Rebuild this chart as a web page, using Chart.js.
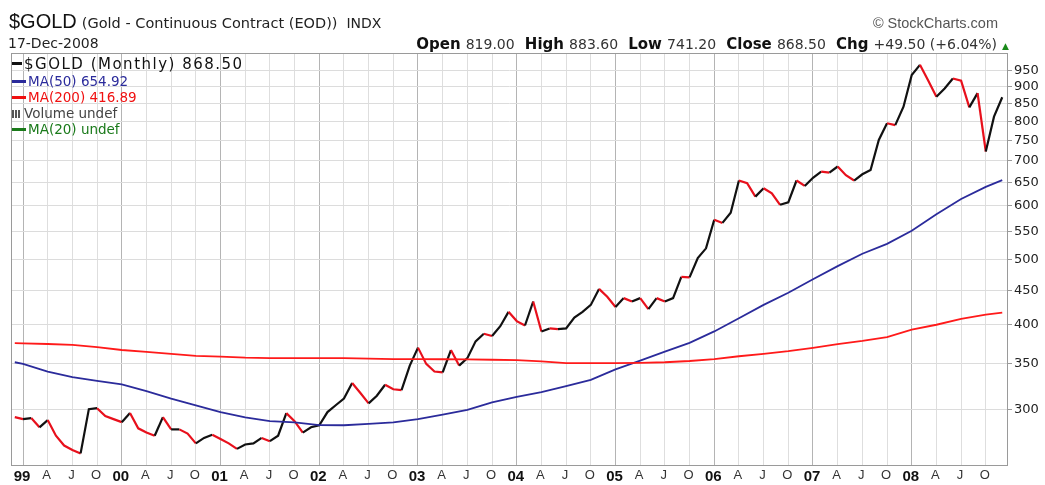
<!DOCTYPE html>
<html>
<head>
<meta charset="utf-8">
<script src="https://cdn.jsdelivr.net/npm/chart.js@4.4.1/dist/chart.umd.min.js"></script>
<style>
  html,body{margin:0;padding:0;background:#fff;}
  #wrap{position:relative;width:1045px;height:485px;overflow:hidden;font-family:"Liberation Sans",Arial,sans-serif;}
  canvas{position:absolute;left:0;top:0;}
  .abs{position:absolute;white-space:nowrap;}
  .leg{position:absolute;left:12px;font-family:"DejaVu Sans",Verdana,sans-serif;white-space:nowrap;line-height:16px;}
  .dash{display:inline-block;width:14px;height:3px;vertical-align:middle;margin-right:2px;position:relative;top:-1px;}
  .ohlc{font-family:"DejaVu Sans",Verdana,sans-serif;}
  .ohlc b{font-weight:bold;font-size:15px;color:#111;}
  .ohlc span{font-size:14px;color:#333;}
</style>
</head>
<body>
<div id="wrap">
  <canvas id="c" width="1045" height="485"></canvas>

  <div class="abs" style="left:9px;top:10px;display:flex;align-items:baseline;color:#111;">
    <span style="font-size:20px;font-family:'Liberation Sans',Arial,sans-serif;">$GOLD</span>
    <span style="font-size:14.5px;margin-left:5px;color:#222;font-family:'DejaVu Sans',Verdana,sans-serif;">(Gold - Continuous Contract (EOD))</span>
    <span style="font-size:14px;margin-left:9px;color:#222;font-family:'DejaVu Sans',Verdana,sans-serif;">INDX</span>
  </div>
  <div class="abs" style="left:8px;top:35px;font-size:14px;color:#222;font-family:'DejaVu Sans',Verdana,sans-serif;">17-Dec-2008</div>
  <div class="abs" style="right:47px;top:15px;font-size:14.5px;color:#555;">&#169; StockCharts.com</div>
  <div class="abs ohlc" style="right:36px;top:34px;">
    <b>Open</b> <span>819.00</span>&nbsp; <b>High</b> <span>883.60</span>&nbsp; <b>Low</b> <span>741.20</span>&nbsp; <b>Close</b> <span>868.50</span>&nbsp; <b>Chg</b> <span>+49.50 (+6.04%)</span> <span style="color:#1a8a1a;font-size:9px;">&#9650;</span>
  </div>

  <div class="leg" style="top:56px;font-size:15px;letter-spacing:1.5px;color:#111;"><span class="dash" style="background:#111;width:10px;"></span>$GOLD (Monthly) 868.50</div>
  <div class="leg" style="top:73px;font-size:13.5px;color:#2b2b9b;"><span class="dash" style="background:#2b2b9b;"></span>MA(50) 654.92</div>
  <div class="leg" style="top:89px;font-size:13.5px;color:#f01010;"><span class="dash" style="background:#f01010;"></span>MA(200) 416.89</div>
  <div class="leg" style="top:105px;font-size:13.5px;color:#444;"><span style="display:inline-block;width:10px;height:8px;margin-right:2px;background:linear-gradient(90deg,#555 0 2px,transparent 2px 3px,#555 3px 5px,transparent 5px 6px,#555 6px 8px,transparent 8px);"></span>Volume undef</div>
  <div class="leg" style="top:121px;font-size:13.5px;color:#1a7a1a;"><span class="dash" style="background:#1a7a1a;"></span>MA(20) undef</div>
</div>

<script>
// ---- Data (monthly closes) ----
const gold1998 = [292];                       // Dec 1998
const gold1999 = [290, 291, 282, 289, 274, 265, 261, 258, 300, 301, 293, 290];
const gold2000 = [287, 296, 281, 277, 274, 292, 280, 280, 276, 267, 272, 275];
const gold2001 = [271, 267, 262, 266, 267, 272, 269, 274, 296, 288, 277, 282];
const gold2002 = [284, 297, 304, 311, 328, 317, 306, 314, 326, 321, 320, 348];
const gold2003 = [370, 350, 341, 340, 367, 348, 357, 378, 388, 385, 398, 418];
const gold2004 = [405, 399, 433, 391, 395, 394, 395, 410, 418, 428, 452, 440];
const gold2005 = [425, 438, 433, 438, 422, 438, 433, 438, 471, 470, 502, 519];
const gold2006 = [572, 566, 586, 654, 648, 619, 637, 626, 602, 607, 654, 642];
const gold2007 = [660, 674, 672, 686, 666, 654, 668, 678, 751, 795, 790, 841];
const gold2008 = [937, 970, 920, 870, 895, 926, 919, 839, 881, 722, 813, 868.5];

// moving averages read at quarterly points (month index, 0 = Jan 1999)
const maMonths = [-1, 0, 3, 6, 9, 12, 15, 18, 21, 24, 27, 30, 33, 36, 39, 42, 45, 48, 51, 54, 57, 60, 63, 66, 69, 72, 75, 78, 81, 84, 87, 90, 93, 96, 99, 102, 105, 108, 111, 114, 117, 119];
const ma50 = [352, 350, 341, 334.5, 330.4, 326.5, 319, 311, 304, 297, 291.7, 288, 286.8, 284.1, 284, 285.3, 286.8, 290, 294.5, 299.2, 307, 312.9, 318, 324.5, 331.5, 343.5, 354, 365, 376, 391, 409, 428, 446, 467, 488.5, 509.5, 527, 551, 583, 614, 640, 654.92];
const ma200 = [375.6, 375.3, 374.6, 373.4, 370.5, 367, 364.7, 362.1, 359.7, 358.9, 357.6, 357, 357, 357, 357, 356.5, 355.8, 355.7, 355.6, 355.4, 355, 354.5, 353, 351, 351, 351, 351.2, 352, 353.5, 355.8, 359.3, 362.2, 365.5, 369.6, 374.4, 378.5, 383.5, 393.5, 400, 408, 414, 416.89];

// axis labels
const yearLabels = ['99', '00', '01', '02', '03', '04', '05', '06', '07', '08'];
const quarterLetters = ['A', 'J', 'O'];
const yTicks = [300, 350, 400, 450, 500, 550, 600, 650, 700, 750, 800, 850, 900, 950];

// ---- Build datasets ----
const goldAll = [].concat(gold1998, gold1999, gold2000, gold2001, gold2002, gold2003, gold2004, gold2005, gold2006, gold2007, gold2008);
const goldPts = goldAll.map((v, i) => ({x: i - 1, y: v}));
const ma50Pts = maMonths.map((m, i) => ({x: m, y: ma50[i]}));
const ma200Pts = maMonths.map((m, i) => ({x: m, y: ma200[i]}));
const quarterTicks = [];
for (let m = 0; m < yearLabels.length * 12; m += 3) quarterTicks.push(m);

const frame = {
  id: 'frame',
  beforeDatasetsDraw(chart) {
    const a = chart.chartArea, c = chart.ctx;
    c.save();
    c.strokeStyle = '#9a9a9a';
    c.lineWidth = 1;
    c.strokeRect(Math.round(a.left) + 0.5, Math.round(a.top) + 0.5, Math.round(a.right - a.left) - 1, Math.round(a.bottom - a.top));
    c.restore();
  }
};

new Chart(document.getElementById('c'), {
  type: 'line',
  data: {
    datasets: [
      {data: ma200Pts, borderColor: '#ff1a1a', borderWidth: 1.8, pointRadius: 0, tension: 0},
      {data: ma50Pts, borderColor: '#2b2b9b', borderWidth: 1.8, pointRadius: 0, tension: 0},
      {data: goldPts, borderColor: '#111', borderWidth: 2.2, pointRadius: 0, tension: 0,
       segment: {borderColor: ctx => ctx.p1.parsed.y < ctx.p0.parsed.y ? '#e8101c' : '#111'}}
    ]
  },
  options: {
    responsive: false,
    animation: false,
    devicePixelRatio: 1,
    layout: {padding: {left: 11, top: 53, right: 0, bottom: 0}},
    plugins: {legend: {display: false}, tooltip: {enabled: false}},
    scales: {
      x: {
        type: 'linear',
        min: -1.46,
        max: 119.7,
        afterBuildTicks: s => { s.ticks = quarterTicks.map(v => ({value: v})); },
        afterFit: s => { s.height = 20; },
        grid: {
          drawTicks: false,
          color: ctx => (ctx.tick && ctx.tick.value % 12 === 0) ? '#b4b4b4' : '#dedede',
          lineWidth: 1
        },
        border: {display: false},
        ticks: {
          autoSkip: false,
          maxRotation: 0,
          padding: 3,
          labelOffset: -1,
          color: ctx => (ctx.tick && ctx.tick.value % 12 === 0) ? '#111' : '#333',
          font: ctx => (ctx.tick && ctx.tick.value % 12 === 0)
            ? {family: '"Liberation Sans", Arial, sans-serif', size: 15, weight: 'bold'}
            : {family: '"Liberation Sans", Arial, sans-serif', size: 13, weight: 'normal'},
          callback: v => v % 12 === 0 ? yearLabels[v / 12] : quarterLetters[(v % 12) / 3 - 1]
        }
      },
      y: {
        type: 'logarithmic',
        position: 'right',
        min: 248,
        max: 1010,
        afterBuildTicks: s => { s.ticks = yTicks.map(v => ({value: v})); },
        afterFit: s => { s.width = 37; },
        grid: {color: '#dcdcdc', lineWidth: 1, tickLength: 4, tickColor: '#9a9a9a'},
        border: {display: false},
        ticks: {
          padding: 2,
          color: '#222',
          font: {family: '"DejaVu Sans", Verdana, sans-serif', size: 13},
          callback: v => String(v)
        }
      }
    }
  },
  plugins: [frame]
});
</script>
</body>
</html>
